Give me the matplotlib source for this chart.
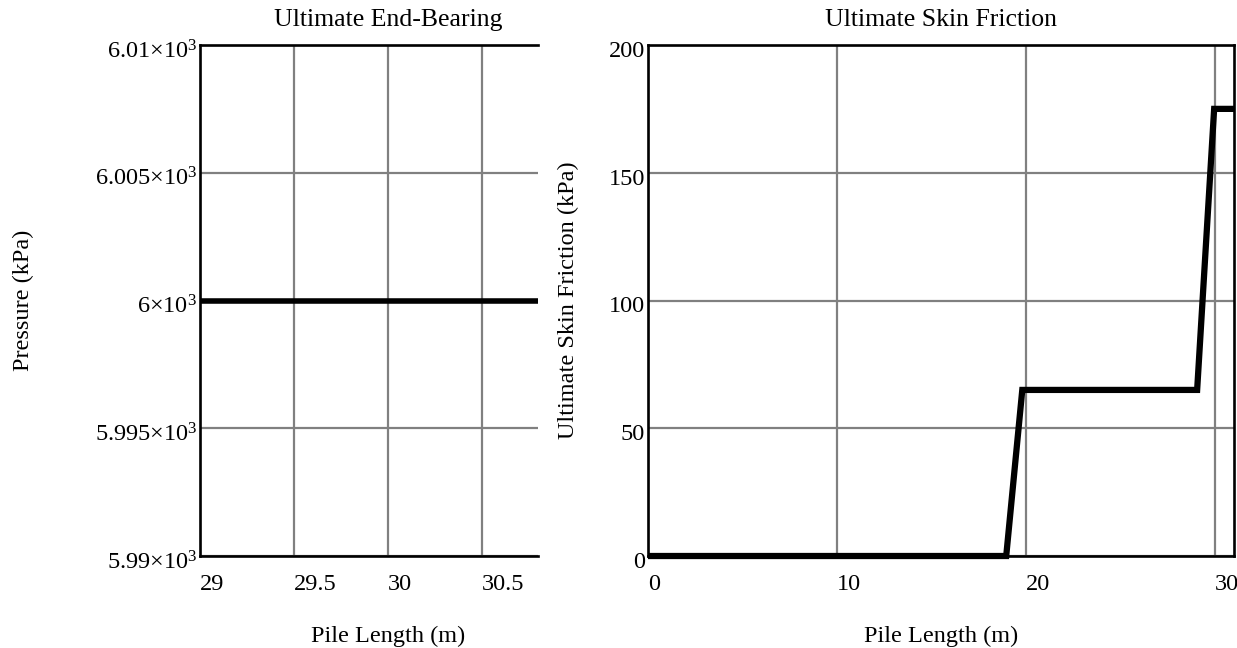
import numpy as np
import matplotlib
matplotlib.use('Agg')
import matplotlib.pyplot as plt
import matplotlib.transforms as mtransforms

plt.rcParams['font.family'] = ['Liberation Serif', 'DejaVu Serif']
plt.rcParams['mathtext.fontset'] = 'custom'
plt.rcParams['mathtext.rm'] = 'Liberation Serif'
plt.rcParams['mathtext.it'] = 'Liberation Serif:italic'

# end bearing data
eb_length   = [29.0, 30.8]
eb_pressure = [6000.0, 6000.0]
eb_xticks   = [29, 29.5, 30, 30.5]
eb_xlabels  = ['29', '29.5', '30', '30.5']
eb_yticks   = [5990, 5995, 6000, 6005, 6010]
eb_ylabels  = [r'$5.99{\times}10^{3}$', r'$5.995{\times}10^{3}$', r'$6{\times}10^{3}$',
               r'$6.005{\times}10^{3}$', r'$6.01{\times}10^{3}$']

# skin friction data
sf_length   = [0, 18.95, 19.8, 29.05, 29.95, 31.0]
sf_friction = [0, 0, 65, 65, 175, 175]
sf_xticks   = [0, 10, 20, 30]
sf_yticks   = [0, 50, 100, 150, 200]

W, H = 1237, 648
fig = plt.figure(figsize=(W/100, H/100), dpi=100)

def box(x0, y0, x1, y1):
    return [x0/W, 1 - y1/H, (x1-x0)/W, (y1-y0)/H]

L1, R1 = 200, 538
L2, R2 = 648, 1234
TOP, BOT = 45, 556
ax1 = fig.add_axes(box(L1, TOP, R1, BOT))
ax2 = fig.add_axes(box(L2, TOP, R2, BOT))

fs = 17.5
for ax in (ax1, ax2):
    ax.grid(True, color='#808080', lw=1.6)
    ax.set_axisbelow(True)
    ax.tick_params(length=0, labelsize=fs)
    for s in ax.spines.values():
        s.set_linewidth(1.9)
        s.set_color('black')
        s.set_zorder(3)
ax1.spines['right'].set_visible(False)

xlab_y = (BOT - 626) / (BOT - TOP)

# left: end bearing
ax1.plot(eb_length, eb_pressure, color='black', lw=4, solid_capstyle='butt', zorder=4)
ax1.set_xlim(29, 30.8)
ax1.set_ylim(5990, 6010)
ax1.set_xticks(eb_xticks)
ax1.set_xticklabels(eb_xlabels, ha='left')
ax1.set_yticks(eb_yticks)
ax1.set_yticklabels(eb_ylabels)
ax1.set_title('Ultimate End-Bearing', fontsize=18.5, pad=14, x=(388 - L1) / (R1 - L1))
ax1.set_xlabel('Pile Length (m)', fontsize=fs)
ax1.xaxis.set_label_coords((388 - L1) / (R1 - L1), xlab_y)
ax1.set_ylabel('Pressure (kPa)', fontsize=fs)
ax1.yaxis.set_label_coords((34 - L1) / (R1 - L1), 0.5)

# right: skin friction
ax2.plot(sf_length, sf_friction, color='black', lw=4.5, solid_capstyle='butt',
         solid_joinstyle='miter', zorder=4, clip_on=False)
ax2.set_xlim(0, 31)
ax2.set_ylim(0, 200)
ax2.set_xticks(sf_xticks)
ax2.set_xticklabels([str(t) for t in sf_xticks], ha='left')
ax2.set_yticks(sf_yticks)
ax2.set_yticklabels([str(t) for t in sf_yticks])
ax2.set_title('Ultimate Skin Friction', fontsize=18.5, pad=14)
ax2.set_xlabel('Pile Length (m)', fontsize=fs)
ax2.xaxis.set_label_coords(0.5, xlab_y)
ax2.set_ylabel('Ultimate Skin Friction (kPa)', fontsize=fs)
ax2.yaxis.set_label_coords((579 - L2) / (R2 - L2), 0.5)

# nudge y tick labels down a little, as in the reference
shift = mtransforms.ScaledTranslation(0, -4/100, fig.dpi_scale_trans)
for ax in (ax1, ax2):
    ax.tick_params(axis='x', pad=13)
    ax.tick_params(axis='y', pad=2)
    for lab in ax.get_yticklabels():
        lab.set_transform(lab.get_transform() + shift)

fig.savefig('out.png', dpi=100)
